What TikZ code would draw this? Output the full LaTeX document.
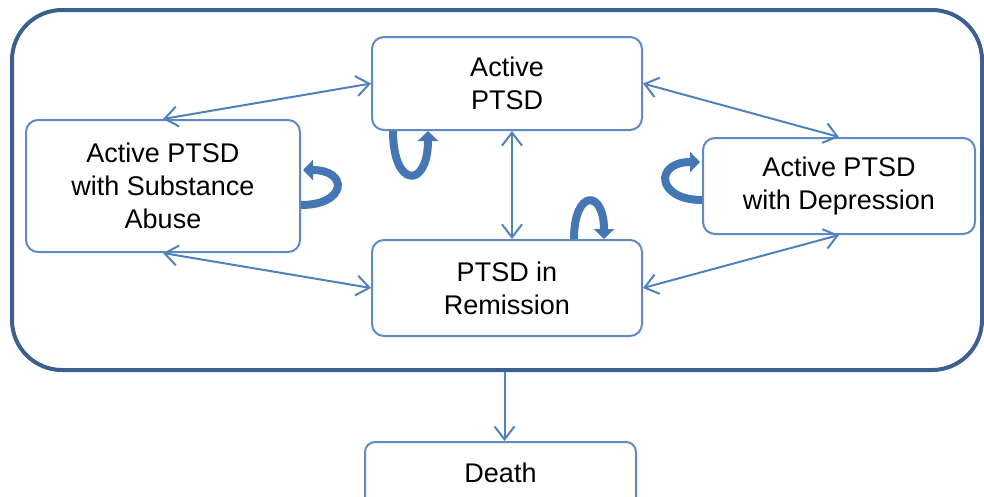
\documentclass[tikz,border=0pt]{standalone}
\usepackage{fontspec}
\setmainfont{Liberation Sans}
\usetikzlibrary{positioning,arrows.meta,calc}
\definecolor{outerblue}{HTML}{3B5F8F}
\definecolor{boxblue}{HTML}{5F8AC4}
\definecolor{linkblue}{HTML}{4F81BD}
\definecolor{loopblue}{HTML}{4677B5}

\begin{document}
\begin{tikzpicture}[
  x=1pt, y=-1pt,
  state/.style={draw=boxblue, line width=2pt, rounded corners=12pt, fill=white,
    align=center, font=\fontsize{27}{33}\selectfont, inner sep=0pt},
  link/.style={draw=linkblue, line width=2pt,
    {Straight Barb[length=13pt,width=20pt]}-{Straight Barb[length=13pt,width=20pt]}},
  oneway/.style={draw=linkblue, line width=2pt, -{Straight Barb[length=13pt,width=20pt]}},
  selfloop/.style={draw=loopblue, line width=8pt, -{Triangle[length=10pt,width=20pt]}},
]
\useasboundingbox (0,0) rectangle (984,496);
% outer frame
\node[draw=outerblue, line width=4pt, rounded corners=50pt,
  minimum width=970pt, minimum height=360pt] (outer) at (497,190) {};
% states
\node[state, minimum width=270pt, minimum height=93pt] (active) at (507,83.5) {Active\\PTSD};
\node[state, minimum width=274pt, minimum height=132pt] (abuse) at (163,186) {Active PTSD\\with Substance\\Abuse};
\node[state, minimum width=272pt, minimum height=96pt] (depress) at (839,186) {Active PTSD\\with Depression};
\node[state, minimum width=270pt, minimum height=96pt] (remit) at (507,288) {PTSD in\\Remission};
\node[state, rounded corners=10pt, minimum width=271pt, minimum height=66pt] (death) at (500.5,475) {\raisebox{4pt}{Death}};
% transitions
\draw[link] (abuse.north) -- (active.west);
\draw[link] (active.east) -- (depress.north);
\draw[link] ([xshift=5pt]active.south) -- ([xshift=5pt]remit.north);
\draw[link] (abuse.south) -- (remit.west);
\draw[link] (remit.east) -- (depress.south);
\draw[oneway] ([xshift=4pt]death.north |- outer.south) -- ([xshift=4pt]death.north);
% staying in the same state
\draw[selfloop] ($(active.south)+(-114,0)$) .. controls +(0,58) and +(0,58) .. ($(active.south)+(-79,0)$);
\draw[selfloop] ($(remit.north)+(67,0)$) .. controls +(0,-50) and +(0,-50) .. ($(remit.north)+(97,0)$);
\draw[selfloop] ($(abuse.east)+(0,19)$) .. controls +(46,0) and +(46,0) .. ($(abuse.east)+(2,-16)$);
\draw[selfloop] ($(depress.west)+(0,14)$) .. controls +(-46,0) and +(-46,0) .. ($(depress.west)+(-2,-24)$);
\end{tikzpicture}
\end{document}
